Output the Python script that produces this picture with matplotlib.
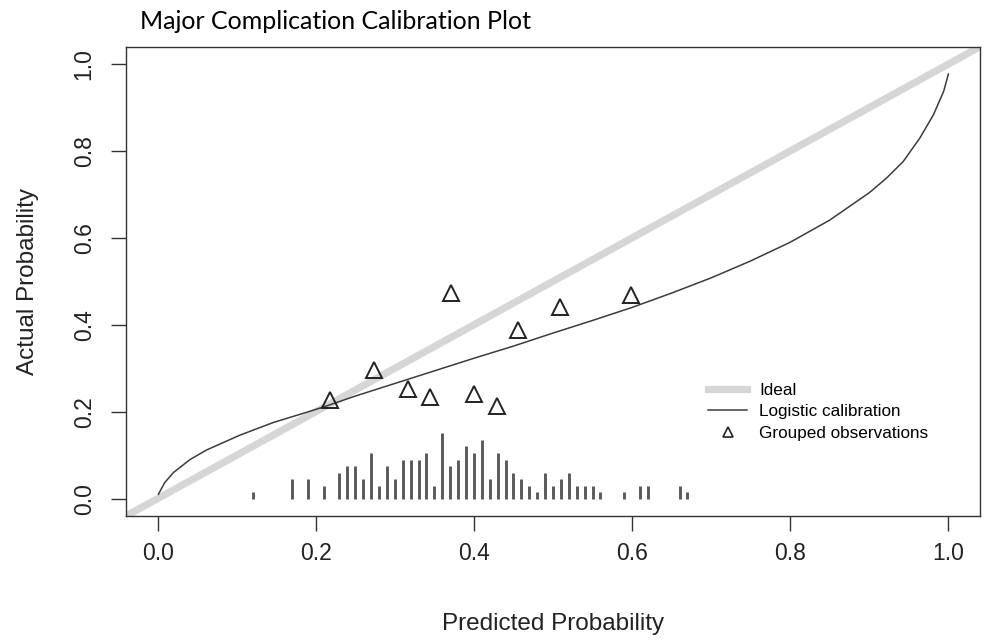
import matplotlib
matplotlib.use('Agg')
import matplotlib.pyplot as plt
from matplotlib.lines import Line2D

plt.rcParams['font.family'] = ['Liberation Sans', 'DejaVu Sans']

# spike histogram of predicted probabilities (counts per bin)
spike_x = [0.12, 0.17, 0.19, 0.21, 0.23, 0.24, 0.25, 0.26, 0.27, 0.28,
           0.29, 0.30, 0.31, 0.32, 0.33, 0.34, 0.35, 0.36, 0.37, 0.38,
           0.39, 0.40, 0.41, 0.42, 0.43, 0.44, 0.45, 0.46, 0.47, 0.48,
           0.49, 0.50, 0.51, 0.52, 0.53, 0.54, 0.55, 0.56, 0.59, 0.61,
           0.62, 0.66, 0.67]
spike_n = [1, 3, 3, 2, 4, 5, 5, 3, 7, 2,
           5, 3, 6, 6, 6, 7, 2, 10, 5, 6,
           8, 7, 9, 3, 7, 6, 4, 3, 2, 1,
           4, 2, 3, 4, 2, 2, 2, 1, 1, 2,
           2, 2, 1]

# grouped observations
obs_x = [0.218, 0.274, 0.317, 0.345, 0.371, 0.400, 0.429, 0.456, 0.509, 0.599]
obs_y = [0.226, 0.297, 0.253, 0.234, 0.473, 0.241, 0.214, 0.387, 0.440, 0.469]

# logistic calibration curve
cal_x = [0.001, 0.009, 0.020, 0.041, 0.062, 0.104, 0.146, 0.189, 0.210,
         0.25, 0.30, 0.35, 0.40, 0.45, 0.50, 0.55, 0.60, 0.65, 0.70,
         0.75, 0.80, 0.85, 0.90, 0.922, 0.943, 0.964, 0.981, 0.994, 1.000]
cal_y = [0.010, 0.037, 0.060, 0.090, 0.112, 0.146, 0.175, 0.199, 0.211,
         0.236, 0.265, 0.294, 0.323, 0.351, 0.381, 0.410, 0.440, 0.473,
         0.508, 0.547, 0.590, 0.641, 0.704, 0.738, 0.776, 0.830, 0.883,
         0.937, 0.977]

ticks = [0.0, 0.2, 0.4, 0.6, 0.8, 1.0]
tick_labels = ['0.0', '0.2', '0.4', '0.6', '0.8', '1.0']

fig = plt.figure(figsize=(9.92, 6.41), dpi=100)
ax = fig.add_axes([126/992, 1-516/641, 854/992, 469.3/641])

# ideal line
ax.plot([-0.1, 1.1], [-0.1, 1.1], color='#d6d6d6', linewidth=5.2,
        solid_capstyle='butt', zorder=1)
# logistic calibration
ax.plot(cal_x, cal_y, color='#3c3c3c', linewidth=1.1, zorder=3)
# grouped observations
ax.plot(obs_x, obs_y, linestyle='none', marker='^', markersize=11,
        markerfacecolor='none', markeredgecolor='#222222',
        markeredgewidth=1.4, zorder=4)
# spikes
unit = 0.015
for x, n in zip(spike_x, spike_n):
    ax.plot([x, x], [0, n*unit], color='#5a5a5a', linewidth=2.1,
            solid_capstyle='butt', zorder=2)

ax.set_xlim(-0.04, 1.04)
ax.set_ylim(-0.04, 1.04)
ax.set_xticks(ticks)
ax.set_xticklabels(tick_labels)
ax.set_yticks(ticks)
ax.set_yticklabels(tick_labels, rotation=90, va='center')

for s in ax.spines.values():
    s.set_color('#333333')
    s.set_linewidth(1.0)
ax.tick_params(axis='both', direction='out', length=10.8, width=1.0,
               color='#333333', labelsize=16.5, labelcolor='#222222')
ax.tick_params(axis='x', pad=8)
ax.tick_params(axis='y', pad=11)

ax.set_xlabel('Predicted Probability', fontsize=17.5, color='#222222')
ax.set_ylabel('Actual Probability', fontsize=17.5, color='#222222')
ax.xaxis.set_label_coords(0.5, -0.206)
ax.yaxis.set_label_coords(-0.102, 0.5)

fig.text(140/992, 1-29/641, 'Major Complication Calibration Plot',
         fontfamily='Lato', fontsize=18, color='#000000', va='baseline')

handles = [Line2D([], [], color='#d6d6d6', linewidth=5.2),
           Line2D([], [], color='#3c3c3c', linewidth=1.1),
           Line2D([], [], linestyle='none', marker='^', markersize=7,
                  markerfacecolor='none', markeredgecolor='#222222',
                  markeredgewidth=1.2)]
ax.legend(handles, ['Ideal', 'Logistic calibration', 'Grouped observations'],
          loc='upper left', bbox_to_anchor=(0.6815, 0.284), frameon=False,
          fontsize=12.3, handlelength=2.3, handletextpad=0.7,
          labelspacing=0.38, borderaxespad=0, borderpad=0)

fig.savefig('out.png', dpi=100)
